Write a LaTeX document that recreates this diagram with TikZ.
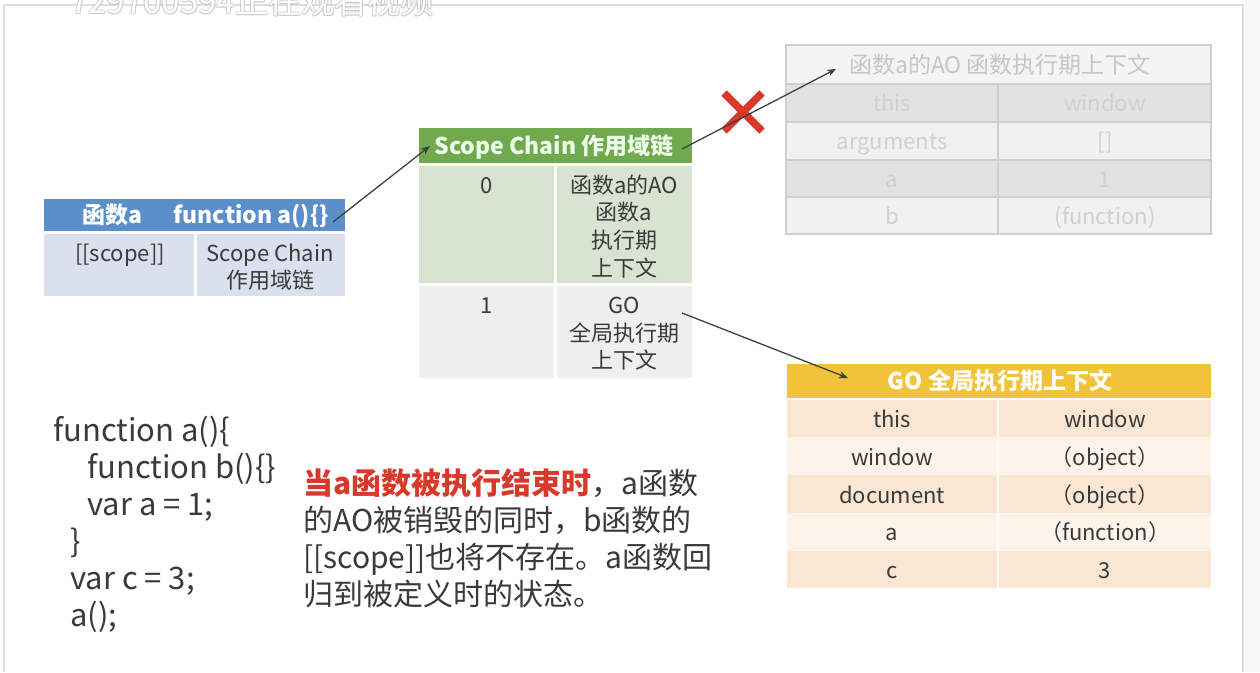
\documentclass[tikz,border=0pt]{standalone}
\usepackage{fontspec}
\setmainfont{Noto Sans CJK SC}
\usetikzlibrary{arrows.meta}
\definecolor{blueH}{HTML}{5B8FCB}
\definecolor{blueC}{HTML}{DAE0EE}
\definecolor{greenH}{HTML}{71A94F}
\definecolor{greenA}{HTML}{D8E3D2}
\definecolor{greenB}{HTML}{EDF1EB}
\definecolor{yellowH}{HTML}{F1C33B}
\definecolor{peachA}{HTML}{FAE7D3}
\definecolor{peachB}{HTML}{FDF3EA}
\definecolor{fadeHead}{HTML}{F4F4F4}
\definecolor{fadeDark}{HTML}{E2E2E2}
\definecolor{fadeLight}{HTML}{F1F1F1}
\definecolor{fadeBorder}{HTML}{CFCFCF}
\definecolor{fadeText}{HTML}{D0D0D0}
\definecolor{fadeHText}{HTML}{C6C6C6}
\definecolor{redX}{HTML}{D9392B}
\definecolor{txt}{HTML}{3A3A3A}
\definecolor{arrowC}{HTML}{404040}
\definecolor{frameC}{HTML}{DEDEDE}
\tikzset{
  cell/.style={font=\fontsize{22}{26}\selectfont, text=txt, inner sep=0, anchor=base},
  fcell/.style={cell, text=fadeText},
  head/.style={font=\bfseries\fontsize{23}{27}\selectfont, text=white, inner sep=0, anchor=base},
  code/.style={font=\fontsize{31}{36}\selectfont, text=txt, inner sep=0, anchor=base west},
  para/.style={font=\fontsize{30}{36}\selectfont, text=txt, inner sep=0, anchor=base west},
  conn/.style={draw=arrowC, line width=1.3pt, -{Stealth[length=9pt,width=7pt]}},
  wm/.style={font=\fontsize{33}{38}\selectfont, inner sep=0, anchor=base west}
}
\begin{document}
\begin{tikzpicture}[x=1pt,y=-1pt]
\useasboundingbox (0,0) rectangle (1260,672);
\fill[white] (0,0) rectangle (1260,672);
\fill[gray!7] (1245,0) rectangle (1260,672);
\draw[frameC, line width=1.5pt] (4,672) -- (4,5) -- (1243,5) -- (1243,672);

% watermark (cut off at the top, as in the screenshot)
\foreach \dx/\dy in {-1/0,1/0,0/-1,0/1,1/1.5,-1/1.5}{
  \node[wm, text=gray!45, opacity=0.6] at (70+\dx,13+\dy) {729700594正在观看视频};
}
\node[wm, text=white] (wmark) at (70,13) {729700594正在观看视频};

% ---- blue table
\fill[blueH] (44,199) rectangle (345,231);
\fill[blueC] (44,234) rectangle (194,296);
\fill[blueC] (197,234) rectangle (345,296);
\node[head] (bh1) at (112,223) {函数a};
\node[head] (bh2) at (251,223) {function a()\{\}};
\node[cell] (bc1) at (120,261) {[[scope]]};
\node[cell] (bc2) at (270,261) {Scope Chain};
\node[cell] (bc3) at (270,288) {作用域链};

% ---- green table
\fill[greenH] (419,128) rectangle (692,163);
\fill[greenA] (419,166) rectangle (554,283);
\fill[greenA] (557,166) rectangle (692,283);
\fill[greenB] (419,286) rectangle (554,378);
\fill[greenB] (557,286) rectangle (692,378);
\node[head, text=white!92!green] (gh) at (554,154) {Scope Chain 作用域链};
\node[cell] (g0) at (487,193) {0};
\node[cell] (g01) at (624,193) {函数a的AO};
\node[cell] (g02) at (624,220) {函数a};
\node[cell] (g03) at (624,248) {执行期};
\node[cell] (g04) at (624,276) {上下文};
\node[cell] (g1) at (487,313) {1};
\node[cell] (g11) at (624,313) {GO};
\node[cell] (g12) at (624,341) {全局执行期};
\node[cell] (g13) at (624,368) {上下文};

% ---- faded AO table
\fill[fadeHead] (786,45) rectangle (1211,84);
\fill[fadeDark] (786,84) rectangle (1211,122);
\fill[fadeLight] (786,122) rectangle (1211,160);
\fill[fadeDark] (786,160) rectangle (1211,197);
\fill[fadeLight] (786,197) rectangle (1211,234);
\draw[fadeBorder, line width=1.5pt] (786,45) rectangle (1211,234);
\foreach \yy in {84,122,160,197}{\draw[fadeBorder, line width=1.5pt] (786,\yy) -- (1211,\yy);}
\draw[fadeBorder, line width=1.5pt] (998,84) -- (998,234);
\node[cell, font=\fontsize{23}{27}\selectfont, text=fadeHText] (fh) at (1000,73) {函数a的AO 函数执行期上下文};
\node[fcell] (f11) at (892,111) {this};
\node[fcell] (f12) at (1105,111) {window};
\node[fcell] (f21) at (892,149) {arguments};
\node[fcell] (f22) at (1105,149) {[]};
\node[fcell] (f31) at (892,187) {a};
\node[fcell] (f32) at (1105,187) {1};
\node[fcell] (f41) at (892,224) {b};
\node[fcell] (f42) at (1105,224) {(function)};

% ---- yellow GO table
\fill[yellowH] (787,364) rectangle (1211,398);
\fill[peachA] (787,400) rectangle (1211,437);
\fill[peachB] (787,437) rectangle (1211,475);
\fill[peachA] (787,475) rectangle (1211,513);
\fill[peachB] (787,513) rectangle (1211,551);
\fill[peachA] (787,551) rectangle (1211,588);
\draw[white, line width=1.5pt] (998,400) -- (998,588);
\node[head] (yh) at (1000,389) {GO 全局执行期上下文};
\node[cell] (y11) at (892,427) {this};
\node[cell] (y12) at (1105,427) {window};
\node[cell] (y21) at (892,465) {window};
\node[cell] (y22) at (1105,465) {（object）};
\node[cell] (y31) at (892,503) {document};
\node[cell] (y32) at (1105,503) {（object）};
\node[cell] (y41) at (892,540) {a};
\node[cell] (y42) at (1105,540) {（function）};
\node[cell] (y51) at (892,578) {c};
\node[cell] (y52) at (1105,578) {3};

% ---- code
\node[code] (c1) at (53,441) {function a()\{};
\node[code] (c2) at (87,478) {function b()\{\}};
\node[code] (c3) at (87,515) {var a = 1;};
\node[code] (c4) at (70,552) {\}};
\node[code] (c5) at (70,589) {var c = 3;};
\node[code] (c6) at (70,626) {a();};

% ---- paragraph
\node[para] (p1) at (303,494) {{\bfseries\color{redX}当a函数被执行结束时}，a函数};
\node[para] (p2) at (303,531) {的AO被销毁的同时，b函数的};
\node[para] (p3) at (303,568) {[[scope]]也将不存在。a函数回};
\node[para] (p4) at (303,605) {归到被定义时的状态。};

% ---- red cross
\draw[redX, line width=7.5pt] (724,93) -- (762,131);
\draw[redX, line width=7.5pt] (724,131) -- (762,93);

% ---- connectors
\coordinate (s1) at (333,222);
\coordinate (e1) at (430,146);
\coordinate (s2) at (682,149);
\coordinate (e2) at (836,69);
\coordinate (s3) at (682,313);
\coordinate (e3) at (848,378);
\draw[conn] (s1) -- (e1);
\draw[conn] (s2) -- (e2);
\draw[conn] (s3) -- (e3);
\end{tikzpicture}
\end{document}
